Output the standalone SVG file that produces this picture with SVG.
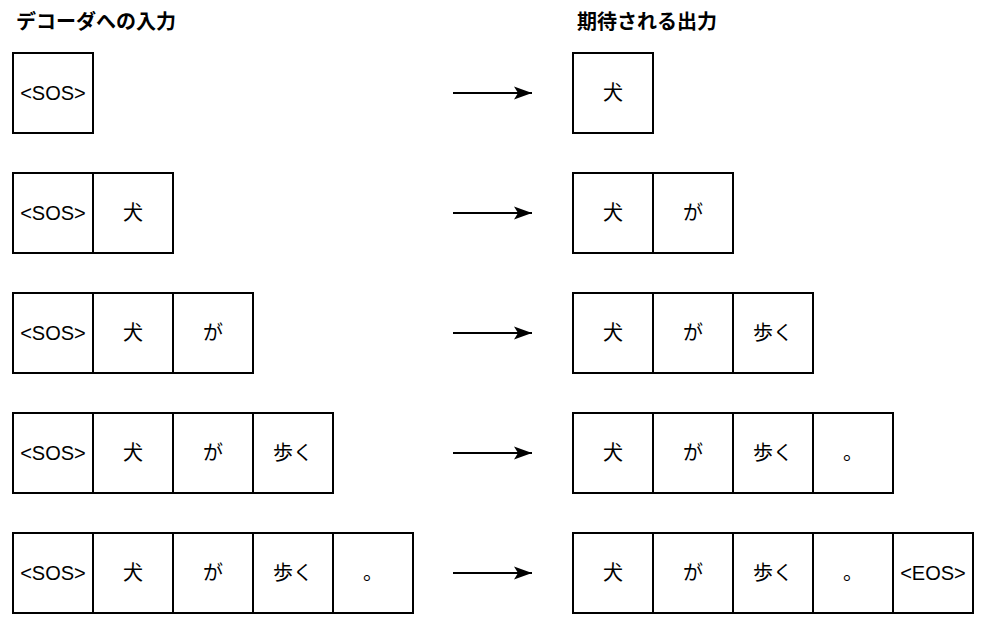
<svg xmlns="http://www.w3.org/2000/svg" width="988" height="630" viewBox="0 0 988 630">
<style>
.b{fill:#fff;stroke:#000;stroke-width:2}
.t{font-family:"Liberation Sans","Noto Sans CJK JP",sans-serif;font-size:20px;text-anchor:middle;fill:#000}
.h{font-family:"Noto Sans CJK JP","Liberation Sans",sans-serif;font-size:20px;font-weight:bold;fill:#000}
.c{stroke:#000;stroke-width:2;fill:none}
</style>
<defs>
<marker id="ah" markerUnits="userSpaceOnUse" markerWidth="20" markerHeight="16" refX="18" refY="8" orient="auto" viewBox="0 0 20 16">
<path d="M0,1.5 L18,8 L0,14.5 L4,8 Z" fill="#000"/>
</marker>
</defs>
<rect width="988" height="630" fill="#fff"/>
<text class="h" x="16" y="29">デコーダへの入力</text>
<text class="h" x="577" y="29">期待される出力</text>

<g id="in1">
<rect class="b" x="13" y="53" width="80" height="80"/><text class="t" x="53" y="100">&lt;SOS&gt;</text>
</g>
<g id="in2">
<rect class="b" x="13" y="173" width="80" height="80"/><text class="t" x="53" y="220">&lt;SOS&gt;</text>
<rect class="b" x="93" y="173" width="80" height="80"/><text class="t" x="133" y="220">犬</text>
</g>
<g id="in3">
<rect class="b" x="13" y="293" width="80" height="80"/><text class="t" x="53" y="340">&lt;SOS&gt;</text>
<rect class="b" x="93" y="293" width="80" height="80"/><text class="t" x="133" y="340">犬</text>
<rect class="b" x="173" y="293" width="80" height="80"/><text class="t" x="213" y="340">が</text>
</g>
<g id="in4">
<rect class="b" x="13" y="413" width="80" height="80"/><text class="t" x="53" y="460">&lt;SOS&gt;</text>
<rect class="b" x="93" y="413" width="80" height="80"/><text class="t" x="133" y="460">犬</text>
<rect class="b" x="173" y="413" width="80" height="80"/><text class="t" x="213" y="460">が</text>
<rect class="b" x="253" y="413" width="80" height="80"/><text class="t" x="293" y="460">歩く</text>
</g>
<g id="in5">
<rect class="b" x="13" y="533" width="80" height="80"/><text class="t" x="53" y="580">&lt;SOS&gt;</text>
<rect class="b" x="93" y="533" width="80" height="80"/><text class="t" x="133" y="580">犬</text>
<rect class="b" x="173" y="533" width="80" height="80"/><text class="t" x="213" y="580">が</text>
<rect class="b" x="253" y="533" width="80" height="80"/><text class="t" x="293" y="580">歩く</text>
<rect class="b" x="333" y="533" width="80" height="80"/><text class="t" x="373" y="580">。</text>
</g>

<g id="out1">
<rect class="b" x="573" y="53" width="80" height="80"/><text class="t" x="613" y="100">犬</text>
</g>
<g id="out2">
<rect class="b" x="573" y="173" width="80" height="80"/><text class="t" x="613" y="220">犬</text>
<rect class="b" x="653" y="173" width="80" height="80"/><text class="t" x="693" y="220">が</text>
</g>
<g id="out3">
<rect class="b" x="573" y="293" width="80" height="80"/><text class="t" x="613" y="340">犬</text>
<rect class="b" x="653" y="293" width="80" height="80"/><text class="t" x="693" y="340">が</text>
<rect class="b" x="733" y="293" width="80" height="80"/><text class="t" x="773" y="340">歩く</text>
</g>
<g id="out4">
<rect class="b" x="573" y="413" width="80" height="80"/><text class="t" x="613" y="460">犬</text>
<rect class="b" x="653" y="413" width="80" height="80"/><text class="t" x="693" y="460">が</text>
<rect class="b" x="733" y="413" width="80" height="80"/><text class="t" x="773" y="460">歩く</text>
<rect class="b" x="813" y="413" width="80" height="80"/><text class="t" x="853" y="460">。</text>
</g>
<g id="out5">
<rect class="b" x="573" y="533" width="80" height="80"/><text class="t" x="613" y="580">犬</text>
<rect class="b" x="653" y="533" width="80" height="80"/><text class="t" x="693" y="580">が</text>
<rect class="b" x="733" y="533" width="80" height="80"/><text class="t" x="773" y="580">歩く</text>
<rect class="b" x="813" y="533" width="80" height="80"/><text class="t" x="853" y="580">。</text>
<rect class="b" x="893" y="533" width="80" height="80"/><text class="t" x="933" y="580">&lt;EOS&gt;</text>
</g>

<g id="connectors">
<path class="c" d="M453,93 H532" marker-end="url(#ah)"/>
<path class="c" d="M453,213 H532" marker-end="url(#ah)"/>
<path class="c" d="M453,333 H532" marker-end="url(#ah)"/>
<path class="c" d="M453,453 H532" marker-end="url(#ah)"/>
<path class="c" d="M453,573 H532" marker-end="url(#ah)"/>
</g>
</svg>
